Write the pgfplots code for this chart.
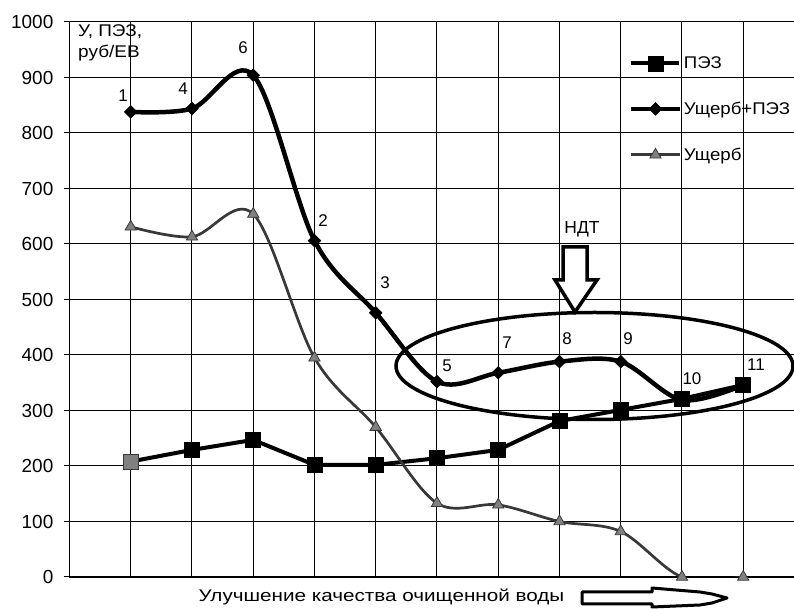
\documentclass[border=0pt]{standalone}
\usepackage{pgfplots}
\pgfplotsset{compat=1.18}
\usepackage{fontspec}
\setmainfont{Liberation Sans}
\definecolor{dmg}{gray}{0.22}
\definecolor{dmgmark}{gray}{0.5}
\newcommand{\lab}{\fontsize{17}{19}\selectfont}

\begin{document}
\begin{tikzpicture}
\begin{axis}[
  scale only axis, width=724.5bp, height=555bp,
  xmin=0, xmax=11.829, ymin=0, ymax=1000,
  axis x line*=bottom, axis y line*=left,
  axis line style={-, line width=1.3bp, black},
  xtick={1,...,11}, xticklabels={}, xtick style={draw=none},
  ytick={0,100,...,1000},
  tick align=outside, major tick length=6bp,
  ytick style={line width=1bp, black},
  yticklabel style={font=\fontsize{19}{22}\selectfont, anchor=east, inner sep=0pt, xshift=-10bp},
  /pgf/number format/assume math mode=true,
  /pgf/number format/1000 sep={},
  grid=major, major grid style={black, line width=1bp},
  legend cell align=left,
  legend style={draw=none, fill=none, at={(0.7723,0.9415)}, anchor=north west,
    inner sep=0pt, row sep=28bp, font=\fontsize{17}{19}\selectfont,
    nodes={inner sep=2bp, xscale=1.1}},
  legend image code/.code={\draw[mark repeat=2, mark phase=2, #1]
    plot coordinates {(0bp,0bp) (24bp,0bp) (48bp,0bp)};},
]
% ПЭЗ
\addplot[black, line width=4bp, mark=square*, mark size=7.5bp,
  mark options={solid, line width=0.5bp}] coordinates {
  (1,208) (2,229) (3,247) (4,202) (5,202) (6,214)
  (7,229) (8,281) (9,301) (10,321) (11,346)
};
\addlegendentry{ПЭЗ}
% Ущерб+ПЭЗ
\addplot[black, line width=4.5bp, smooth, tension=0.55, mark=square*, mark size=4.5bp,
  mark options={solid, rotate=45, line width=0.5bp}] coordinates {
  (1,838) (2,844) (3,904) (4,606) (5,476) (6,352)
  (7,368) (8,388) (9,388) (10,319) (11,346)
};
\addlegendentry{Ущерб+ПЭЗ}
% Ущерб
\addplot[dmg, line width=2.7bp, smooth, tension=0.55, mark=triangle*, mark size=6.5bp,
  mark options={solid, fill=dmgmark, draw=dmg, line width=0.8bp}] coordinates {
  (1,631) (2,613) (3,654) (4,395) (5,270) (6,133)
  (7,130) (8,100) (9,82) (10,0) (11,0)
};
\addlegendentry{Ущерб}
\addplot[only marks, mark=square*, mark size=7.5bp, dmgmark,
  mark options={draw=dmg, line width=0.5bp}, forget plot] coordinates {(1,208)};

\node[font=\lab] at (axis cs:0.873,868) {1};
\node[font=\lab] at (axis cs:1.853,879) {4};
\node[font=\lab] at (axis cs:2.833,953) {6};
\node[font=\lab] at (axis cs:4.139,643) {2};
\node[font=\lab] at (axis cs:5.151,530) {3};
\node[font=\lab] at (axis cs:6.163,380) {5};
\node[font=\lab] at (axis cs:7.143,422) {7};
\node[font=\lab] at (axis cs:8.122,429) {8};
\node[font=\lab] at (axis cs:9.118,429) {9};
\node[font=\lab] at (axis cs:10.163,357) {10};
\node[font=\lab] at (axis cs:11.208,382) {11};
\end{axis}

\begin{scope}[shift={(current axis.south west)}, x=1bp, y=1bp]
  \draw[line width=3.5bp] (525,211) ellipse [x radius=198.5, y radius=53.5];
  \draw[line width=3.5bp, fill=white, line join=miter]
    (493.5,330) -- (517.5,330) -- (517.5,297) -- (527.5,297) -- (505.5,265)
    -- (485.5,297) -- (493.5,297) -- cycle;
  \node[font=\fontsize{17.5}{19}\selectfont] at (512.5,348) {НДТ};
  \node[font=\fontsize{17}{19}\selectfont, anchor=base, xscale=1.22] at (312,-25)
    {Улучшение качества очищенной воды};
  \draw[line width=3bp, fill=white, line join=round]
    (512.5,-15) -- (582.5,-15) -- (582.5,-11) -- (630.5,-15) -- (642.5,-17)
    -- (657.5,-21) -- (642.5,-26) -- (630.5,-28) -- (582.5,-30) -- (582.5,-27)
    -- (512.5,-27) -- cycle;
  \node[font=\fontsize{17}{19}\selectfont, anchor=base west, inner sep=0pt, xscale=1.12] at (8.5,540) {У, ПЭЗ,};
  \node[font=\fontsize{17}{19}\selectfont, anchor=base west, inner sep=0pt, xscale=1.12] at (8.5,519) {руб/ЕВ};
  \pgfresetboundingbox
  \path[use as bounding box] (-69.5,-32) rectangle (724.5,577);
\end{scope}
\end{tikzpicture}
\end{document}
